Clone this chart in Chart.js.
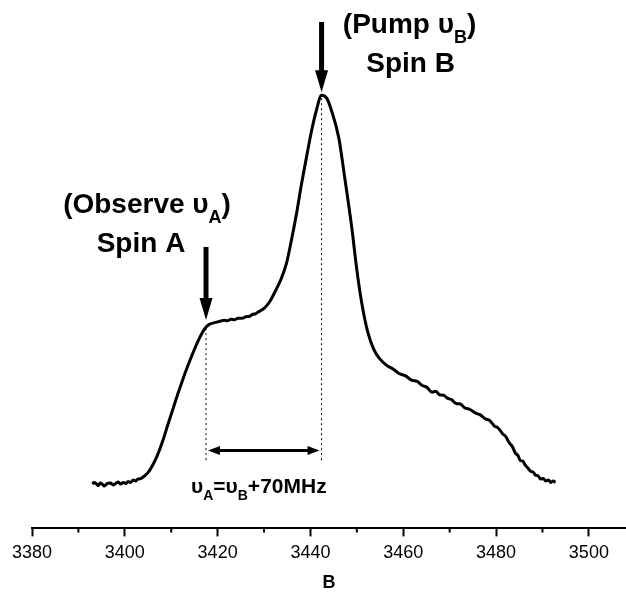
<!DOCTYPE html>
<html>
<head>
<meta charset="utf-8">
<script src="https://cdn.jsdelivr.net/npm/chart.js@4.4.1/dist/chart.umd.min.js"></script>
<style>
  html, body { margin: 0; padding: 0; background: #fff; }
  #wrap { width: 626px; height: 592px; }
</style>
</head>
<body>
<div id="wrap"><canvas id="chart" width="626" height="592"></canvas></div>
<script>
// Field values (B) and signal
var fieldB = [
  3393.0, 3393.4, 3393.8, 3394.3, 3394.7, 3395.2, 3395.6, 3396.2, 3396.9, 3397.5,
  3398.0, 3398.6, 3399.1, 3399.7, 3400.2, 3400.7, 3401.2, 3401.8, 3402.3, 3402.8,
  3403.4, 3404.2, 3404.9, 3406.0, 3407.1, 3408.2, 3409.2, 3410.3, 3411.4, 3412.5,
  3413.6, 3414.7, 3415.7, 3416.6, 3417.5, 3418.3, 3419.0, 3420.2, 3421.4, 3422.1,
  3422.9, 3423.6, 3424.4, 3425.3, 3426.1, 3426.9, 3427.6, 3428.2, 3428.8, 3429.4,
  3430.0, 3430.8, 3431.5, 3432.6, 3433.7, 3434.8, 3435.9, 3437.0, 3438.0, 3439.1,
  3440.2, 3441.3, 3442.4, 3443.5, 3444.5, 3446.1, 3447.4, 3448.9, 3450.0, 3451.0,
  3452.3, 3453.6, 3454.9, 3456.5, 3457.8, 3459.1, 3460.5, 3461.9, 3463.0, 3464.0,
  3465.1, 3466.2, 3467.0, 3467.8, 3468.7, 3469.5, 3470.4, 3471.4, 3472.3, 3473.3,
  3474.4, 3475.5, 3476.6, 3477.7, 3478.6, 3479.6, 3480.5, 3481.4, 3482.1, 3482.8,
  3483.5, 3484.2, 3484.7, 3485.2, 3485.8, 3486.3, 3486.9, 3487.4, 3488.0, 3488.5,
  3489.1, 3489.6, 3490.2, 3490.7, 3491.3, 3491.8, 3492.3, 3492.8
];
var signal = [
  9.0, 9.3, 9.1, 8.7, 9.2, 8.9, 8.6, 9.1, 9.2, 8.8,
  9.1, 9.4, 9.0, 9.3, 9.1, 9.5, 9.3, 9.8, 9.6, 10.0,
  10.1, 10.6, 11.2, 12.8, 15.0, 17.8, 20.8, 24.0, 27.2, 30.2,
  33.0, 35.6, 37.8, 39.5, 40.8, 41.4, 41.6, 41.9, 42.2, 42.1,
  42.4, 42.3, 42.6, 42.6, 42.9, 43.0, 43.4, 43.5, 43.9, 44.2,
  44.6, 45.4, 46.4, 48.4, 50.6, 53.6, 58.4, 63.8, 69.4, 75.0,
  80.4, 84.8, 87.8, 87.2, 84.8, 79.2, 71.0, 61.0, 52.4, 46.0,
  40.0, 36.4, 34.4, 33.0, 32.3, 31.4, 30.9, 30.0, 29.8, 29.0,
  28.6, 27.6, 27.8, 27.1, 27.0, 26.4, 26.1, 25.3, 25.2, 24.4,
  24.1, 23.4, 23.0, 22.2, 21.9, 20.8, 20.3, 19.2, 18.6, 17.4,
  16.6, 15.2, 14.8, 13.8, 13.6, 12.8, 12.2, 11.6, 11.4, 10.8,
  10.6, 10.0, 10.1, 9.6, 9.8, 9.3, 9.6, 9.3
];
var xTicks = [3380, 3400, 3420, 3440, 3460, 3480, 3500];
var xMinorTicks = [3390, 3410, 3430, 3450, 3470, 3490];

// Marked positions
var observeB = 3417.5;
var observeLevel = 41.0;
var pumpB = 3442.4;
var pumpLevel = 87.8;
var markerBottomLevel = 13.5;
var spanLevel = 15.8;

var FONT = 'Liberation Sans, Arial, sans-serif';

var points = fieldB.map(function(b, i) { return { x: b, y: signal[i] }; });

// draw text with subscripts, centred on x
function drawRich(ctx, parts, x, y, size) {
  var total = 0;
  parts.forEach(function(p) {
    ctx.font = 'bold ' + (p.sub ? Math.round(size * 0.65) : size) + 'px ' + FONT;
    p.w = ctx.measureText(p.t).width;
    total += p.w;
  });
  var cx = x - total / 2;
  ctx.textAlign = 'left';
  ctx.textBaseline = 'alphabetic';
  parts.forEach(function(p) {
    ctx.font = 'bold ' + (p.sub ? Math.round(size * 0.65) : size) + 'px ' + FONT;
    ctx.fillText(p.t, cx, p.sub ? y + size * 0.34 : y);
    cx += p.w;
  });
}

function downArrow(ctx, x, yTop, yTip) {
  ctx.beginPath();
  ctx.lineWidth = 5;
  ctx.moveTo(x, yTop);
  ctx.lineTo(x, yTip - 18);
  ctx.stroke();
  ctx.beginPath();
  ctx.moveTo(x - 6.5, yTip - 22);
  ctx.lineTo(x + 6.5, yTip - 22);
  ctx.lineTo(x, yTip);
  ctx.closePath();
  ctx.fill();
}

var annotations = {
  id: 'annotations',
  afterDraw: function(chart) {
    var ctx = chart.ctx;
    var xs = chart.scales.x;
    var ys = chart.scales.y;
    var xA = xs.getPixelForValue(observeB);
    var xB = xs.getPixelForValue(pumpB);
    var yA = ys.getPixelForValue(observeLevel);
    var yB = ys.getPixelForValue(pumpLevel);
    var yLow = ys.getPixelForValue(markerBottomLevel);
    var ySpan = ys.getPixelForValue(spanLevel);

    ctx.save();
    ctx.strokeStyle = '#000';
    ctx.fillStyle = '#000';

    // dotted markers
    ctx.lineWidth = 1;
    ctx.setLineDash([2, 3]);
    ctx.beginPath();
    ctx.moveTo(xA, yA + 2);
    ctx.lineTo(xA, yLow);
    ctx.moveTo(xB, yB + 3);
    ctx.lineTo(xB, yLow);
    ctx.stroke();
    ctx.setLineDash([]);

    // double arrow between markers
    ctx.lineWidth = 3;
    ctx.beginPath();
    ctx.moveTo(xA + 8, ySpan);
    ctx.lineTo(xB - 8, ySpan);
    ctx.stroke();
    ctx.beginPath();
    ctx.moveTo(xA + 2, ySpan);
    ctx.lineTo(xA + 14, ySpan - 4.5);
    ctx.lineTo(xA + 14, ySpan + 4.5);
    ctx.closePath();
    ctx.moveTo(xB - 2, ySpan);
    ctx.lineTo(xB - 14, ySpan - 4.5);
    ctx.lineTo(xB - 14, ySpan + 4.5);
    ctx.closePath();
    ctx.fill();

    // big arrows
    downArrow(ctx, xA, 247, yA - 6);
    downArrow(ctx, xB, 22, yB - 3);

    // labels
    drawRich(ctx, [{ t: '(Observe \u03c5' }, { t: 'A', sub: true }, { t: ')' }], xA - 59, 213, 28);
    drawRich(ctx, [{ t: 'Spin A' }], xA - 65, 252, 28);
    drawRich(ctx, [{ t: '(Pump \u03c5' }, { t: 'B', sub: true }, { t: ')' }], xB + 88, 33, 28);
    drawRich(ctx, [{ t: 'Spin B' }], xB + 89, 72, 28);
    drawRich(ctx, [{ t: '\u03c5' }, { t: 'A', sub: true }, { t: '=\u03c5' }, { t: 'B', sub: true }, { t: '+70MHz' }],
      (xA + xB) / 2 - 5, 493, 21);

    // minor ticks on the B axis
    ctx.lineWidth = 2;
    ctx.beginPath();
    xMinorTicks.forEach(function(v) {
      var px = xs.getPixelForValue(v);
      ctx.moveTo(px, xs.top);
      ctx.lineTo(px, xs.top + 4);
    });
    ctx.stroke();
    ctx.restore();
  }
};

new Chart(document.getElementById('chart'), {
  type: 'line',
  data: {
    datasets: [{
      data: points,
      borderColor: '#000',
      borderWidth: 3,
      pointRadius: 0,
      cubicInterpolationMode: 'monotone',
      fill: false
    }]
  },
  options: {
    responsive: false,
    animation: false,
    layout: { padding: { left: 32, right: 0, top: 35, bottom: 0 } },
    plugins: {
      legend: { display: false },
      tooltip: { enabled: false }
    },
    scales: {
      x: {
        type: 'linear',
        min: 3380,
        max: 3508,
        afterBuildTicks: function(scale) {
          scale.ticks = xTicks.map(function(v) { return { value: v }; });
        },
        ticks: {
          color: '#000',
          padding: 6,
          maxRotation: 0,
          font: { family: FONT, size: 18 },
          callback: function(v) { return String(v); }
        },
        grid: {
          drawOnChartArea: false,
          drawTicks: true,
          tickLength: 8,
          tickWidth: 2,
          tickColor: '#000'
        },
        border: { display: true, color: '#000', width: 2 },
        title: {
          display: true,
          text: 'B',
          color: '#000',
          font: { family: FONT, size: 18, weight: 'bold', lineHeight: 1 },
          padding: { top: 4, bottom: 0 }
        }
      },
      y: {
        display: false,
        min: 0,
        max: 100
      }
    }
  },
  plugins: [annotations]
});
</script>
</body>
</html>
